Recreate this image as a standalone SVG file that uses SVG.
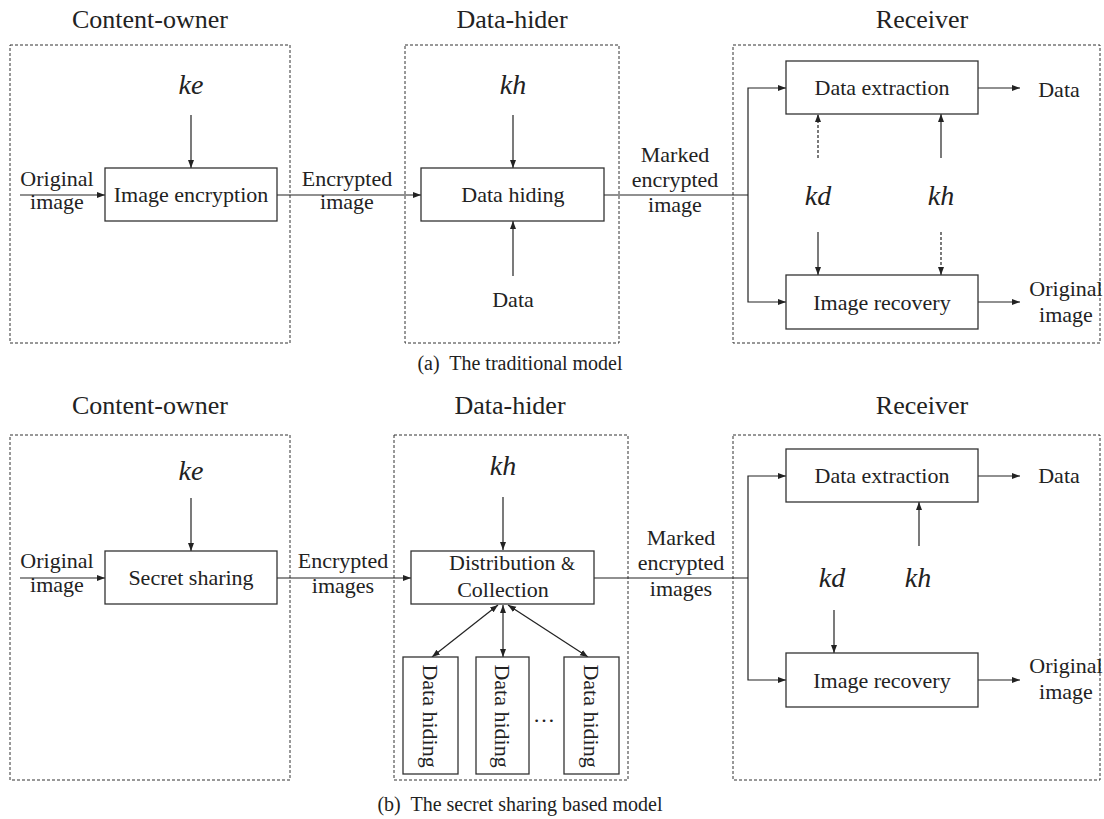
<svg xmlns="http://www.w3.org/2000/svg" width="1104" height="819" viewBox="0 0 1104 819">
<defs>
<marker id="ah" markerWidth="9" markerHeight="7" refX="8" refY="3" orient="auto-start-reverse" markerUnits="userSpaceOnUse">
<path d="M0,0 L8,3 L0,6 z" fill="#222"/>
</marker>
<style>
.t{font-family:"Liberation Serif","Times New Roman",serif;font-size:22px;fill:#222;text-anchor:middle}
.ti{font-family:"Liberation Serif","Times New Roman",serif;font-size:26px;fill:#222;text-anchor:middle}
.k{font-family:"Liberation Serif","Times New Roman",serif;font-size:28px;font-style:italic;fill:#222;text-anchor:middle}
.cap{font-family:"Liberation Serif","Times New Roman",serif;font-size:20px;fill:#222;text-anchor:middle}
.grp{fill:none;stroke:#333;stroke-width:1;stroke-dasharray:3,2}
.box{fill:#fff;stroke:#333;stroke-width:1.3}
.ln{fill:none;stroke:#222;stroke-width:1.2}
.ar{fill:none;stroke:#222;stroke-width:1.2;marker-end:url(#ah)}
.ard{fill:none;stroke:#222;stroke-width:1.2;stroke-dasharray:3,2;marker-end:url(#ah)}
.bi{fill:none;stroke:#222;stroke-width:1.2;marker-end:url(#ah);marker-start:url(#ah)}
</style>
</defs>
<rect width="1104" height="819" fill="#fff"/>

<!-- ===== (a) traditional model ===== -->
<g id="a-titles">
<text class="ti" x="150" y="28">Content-owner</text>
<text class="ti" x="512" y="28">Data-hider</text>
<text class="ti" x="922" y="28">Receiver</text>
</g>
<g id="a-content-owner"><rect class="grp" x="10" y="45" width="280" height="298"/></g>
<g id="a-data-hider"><rect class="grp" x="405" y="45" width="214" height="298"/></g>
<g id="a-receiver"><rect class="grp" x="733" y="45" width="367" height="298"/></g>

<g id="a-connectors">
<line class="ar" x1="20" y1="195" x2="105" y2="195"/>
<line class="ar" x1="191" y1="115" x2="191" y2="168"/>
<line class="ar" x1="277" y1="195" x2="421" y2="195"/>
<line class="ar" x1="513" y1="115" x2="513" y2="168"/>
<line class="ar" x1="513" y1="276" x2="513" y2="221"/>
<polyline class="ln" points="604,195 748,195"/>
<polyline class="ar" points="748,195 748,88 786,88"/>
<polyline class="ar" points="748,195 748,302 786,302"/>
<line class="ar" x1="978" y1="88" x2="1020" y2="88"/>
<line class="ar" x1="978" y1="302" x2="1020" y2="302"/>
<line class="ard" x1="818" y1="158" x2="818" y2="114"/>
<line class="ar" x1="941" y1="158" x2="941" y2="114"/>
<line class="ar" x1="818" y1="232" x2="818" y2="275"/>
<line class="ard" x1="941" y1="232" x2="941" y2="275"/>
</g>

<g id="a-labels">
<text class="t" x="57" y="186">Original</text>
<text class="t" x="57" y="209">image</text>
<text class="k" x="191" y="94">ke</text>
<text class="t" x="347" y="186">Encrypted</text>
<text class="t" x="347" y="209">image</text>
<text class="k" x="513" y="94">kh</text>
<text class="t" x="513" y="307">Data</text>
<text class="t" x="675" y="162">Marked</text>
<text class="t" x="675" y="187">encrypted</text>
<text class="t" x="675" y="212">image</text>
<text class="k" x="818" y="205">kd</text>
<text class="k" x="941" y="205">kh</text>
<text class="t" x="1059" y="97">Data</text>
<text class="t" x="1066" y="296">Original</text>
<text class="t" x="1066" y="322">image</text>
</g>

<g id="a-image-encryption"><rect class="box" x="105" y="168" width="172" height="53"/><text class="t" x="191" y="202">Image encryption</text></g>
<g id="a-data-hiding"><rect class="box" x="421" y="168" width="183" height="53"/><text class="t" x="513" y="202">Data hiding</text></g>
<g id="a-data-extraction"><rect class="box" x="786" y="61" width="192" height="53"/><text class="t" x="882" y="95">Data extraction</text></g>
<g id="a-image-recovery"><rect class="box" x="786" y="275" width="192" height="54"/><text class="t" x="882" y="310">Image recovery</text></g>

<text class="cap" x="520" y="370">(a)&#160; The traditional model</text>

<!-- ===== (b) secret sharing based model ===== -->
<g id="b-titles">
<text class="ti" x="150" y="414">Content-owner</text>
<text class="ti" x="510" y="414">Data-hider</text>
<text class="ti" x="922" y="414">Receiver</text>
</g>
<g id="b-content-owner"><rect class="grp" x="10" y="435" width="280" height="345"/></g>
<g id="b-data-hider"><rect class="grp" x="394" y="435" width="234" height="345"/></g>
<g id="b-receiver"><rect class="grp" x="733" y="435" width="367" height="345"/></g>

<g id="b-connectors">
<line class="ar" x1="20" y1="578" x2="105" y2="578"/>
<line class="ar" x1="191" y1="498" x2="191" y2="551"/>
<line class="ar" x1="277" y1="578" x2="411" y2="578"/>
<line class="ar" x1="503" y1="497" x2="503" y2="550"/>
<line class="bi" x1="498" y1="605" x2="432" y2="657"/>
<line class="bi" x1="503" y1="605" x2="503" y2="657"/>
<line class="bi" x1="508" y1="605" x2="588" y2="657"/>
<polyline class="ln" points="594,578 748,578"/>
<polyline class="ar" points="748,578 748,476 786,476"/>
<polyline class="ar" points="748,578 748,680 786,680"/>
<line class="ar" x1="978" y1="476" x2="1020" y2="476"/>
<line class="ar" x1="978" y1="680" x2="1020" y2="680"/>
<line class="ar" x1="919" y1="546" x2="919" y2="502"/>
<line class="ar" x1="834" y1="610" x2="834" y2="653"/>
</g>

<g id="b-labels">
<text class="t" x="57" y="568">Original</text>
<text class="t" x="57" y="592">image</text>
<text class="k" x="191" y="480">ke</text>
<text class="t" x="343" y="568">Encrypted</text>
<text class="t" x="343" y="593">images</text>
<text class="k" x="503" y="475">kh</text>
<text class="t" x="681" y="545">Marked</text>
<text class="t" x="681" y="570">encrypted</text>
<text class="t" x="681" y="596">images</text>
<text class="k" x="832" y="587">kd</text>
<text class="k" x="918" y="587">kh</text>
<text class="t" x="1059" y="483">Data</text>
<text class="t" x="1066" y="673">Original</text>
<text class="t" x="1066" y="699">image</text>
<text class="t" x="544" y="722">…</text>
</g>

<g id="b-secret-sharing"><rect class="box" x="105" y="551" width="172" height="53"/><text class="t" x="191" y="585">Secret sharing</text></g>
<g id="b-distribution"><rect class="box" x="411" y="551" width="183" height="53"/><text class="t" x="512" y="570">Distribution <tspan font-size="18">&amp;</tspan></text><text class="t" x="503" y="597">Collection</text></g>
<g id="b-dh1"><rect class="box" x="403" y="657" width="55" height="117"/><text class="t" transform="translate(423,716) rotate(90)">Data hiding</text></g>
<g id="b-dh2"><rect class="box" x="476" y="657" width="53" height="117"/><text class="t" transform="translate(495,716) rotate(90)">Data hiding</text></g>
<g id="b-dh3"><rect class="box" x="564" y="657" width="55" height="117"/><text class="t" transform="translate(584,716) rotate(90)">Data hiding</text></g>
<g id="b-data-extraction"><rect class="box" x="786" y="449" width="192" height="53"/><text class="t" x="882" y="483">Data extraction</text></g>
<g id="b-image-recovery"><rect class="box" x="786" y="653" width="192" height="54"/><text class="t" x="882" y="688">Image recovery</text></g>

<text class="cap" x="520" y="811">(b)&#160; The secret sharing based model</text>
</svg>
